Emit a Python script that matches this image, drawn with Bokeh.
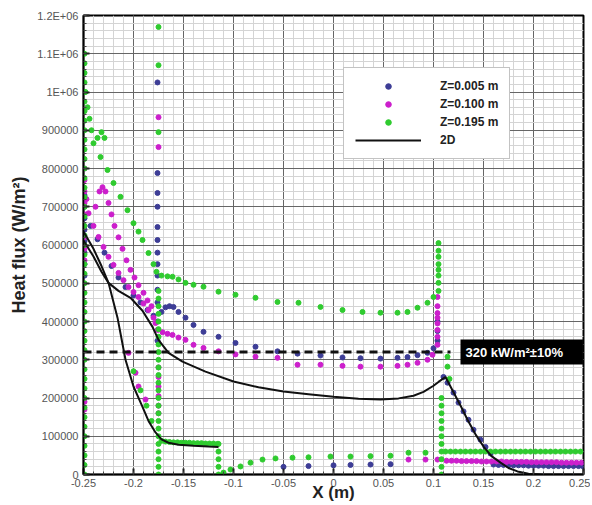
from bokeh.plotting import figure
from bokeh.models import (FixedTicker, Legend, LegendItem, Label)
from bokeh.embed import file_html
from bokeh.resources import INLINE

# ---------------- data ----------------
x_ticks = [-0.25, -0.2, -0.15, -0.1, -0.05, 0.0, 0.05, 0.1, 0.15, 0.2, 0.25]
x_tick_labels = ["-0.25", "-0.2", "-0.15", "-0.1", "-0.05", "0", "0.05", "0.1", "0.15", "0.2", "0.25"]
y_ticks = [0, 100000, 200000, 300000, 400000, 500000, 600000, 700000, 800000, 900000, 1000000, 1100000, 1200000]
y_tick_labels = ["0", "100000", "200000", "300000", "400000", "500000", "600000", "700000",
                 "800000", "900000", "1E+06", "1.1E+06", "1.2E+06"]

# Z = 0.005 m (blue)
z005_x = [-0.249, -0.249, -0.249, -0.249, -0.249, -0.249, -0.249, -0.249,
          -0.243, -0.236, -0.229, -0.222, -0.215, -0.208, -0.2, -0.193, -0.186, -0.18,
          -0.176, -0.176, -0.176, -0.176, -0.176, -0.176, -0.176, -0.176, -0.176, -0.176, -0.176, -0.176, -0.176,
          -0.172, -0.168, -0.164, -0.16, -0.155, -0.148, -0.14, -0.13, -0.115, -0.098, -0.078, -0.056, -0.036,
          -0.013, 0.009, 0.027, 0.047, 0.064, 0.074, 0.084, 0.094, 0.1, 0.104, 0.104, 0.104,
          0.11, 0.114, 0.12, 0.125, 0.13, 0.135, 0.14, 0.147, 0.152, 0.157,
          -0.05, -0.025, 0.0, 0.017, 0.037, 0.057,
          0.16, 0.165, 0.17, 0.175, 0.18, 0.185, 0.19, 0.195, 0.2, 0.205, 0.21, 0.215, 0.22, 0.225, 0.23, 0.235, 0.24, 0.245, 0.249]
z005_y = [520000, 550000, 580000, 610000, 640000, 670000, 700000, 730000,
          650000, 615000, 580000, 545000, 515000, 490000, 468000, 450000, 430000, 415000,
          1025000, 788000, 736000, 700000, 647000, 613000, 580000, 550000, 520000, 483000, 450000, 400000, 350000,
          425000, 437000, 440000, 438000, 425000, 410000, 391000, 373000, 360000, 344000, 334000, 322000, 316000,
          311000, 306000, 304000, 303000, 305000, 307000, 312000, 318000, 330000, 350000, 375000, 400000,
          255000, 240000, 214000, 188000, 165000, 143000, 117000, 91000, 72000, 55000,
          20000, 22000, 24000, 25000, 26000, 27000,
          26000, 25000, 25000, 24000, 24000, 24000, 24000, 23000, 23000, 23000, 23000, 22000, 22000, 22000, 22000, 22000, 22000, 22000, 22000]

# Z = 0.100 m (magenta)
z100_x = [-0.249, -0.249, -0.249, -0.249, -0.249, -0.249, -0.249, -0.249, -0.249, -0.249, -0.249,
          -0.247, -0.245, -0.24, -0.235, -0.23, -0.225, -0.22, -0.215, -0.21, -0.205, -0.2, -0.195, -0.19, -0.185, -0.18, -0.178, -0.176,
          -0.238, -0.234, -0.231, -0.228, -0.225, -0.222, -0.219, -0.215, -0.211, -0.207, -0.203, -0.199, -0.195, -0.19, -0.186, -0.182,
          -0.205, -0.198, -0.195, -0.188,
          -0.175, -0.175, -0.175, -0.175, -0.175, -0.175, -0.175, -0.175,
          -0.171, -0.166, -0.161, -0.155, -0.148, -0.14, -0.13, -0.115, -0.098, -0.078, -0.056, -0.036,
          -0.013, 0.009, 0.027, 0.047, 0.064, 0.074, 0.084, 0.094, 0.099,
          0.104, 0.104, 0.104, 0.104, 0.104, 0.104, 0.104, 0.104,
          0.075, 0.092, 0.104,
          0.113, 0.118, 0.123, 0.128, 0.133, 0.138, 0.143, 0.148, 0.153, 0.158, 0.163, 0.168, 0.173, 0.178,
          0.183, 0.188, 0.193, 0.198, 0.203, 0.208, 0.213, 0.218, 0.223, 0.228, 0.233, 0.238, 0.243, 0.248]
z100_y = [560000, 590000, 620000, 650000, 680000, 710000, 740000, 770000, 800000, 170000, 190000,
          720000, 683000, 650000, 621000, 595000, 569000, 548000, 527000, 508000, 490000, 477000, 464000, 447000, 430000, 410000, 396000, 378000,
          700000, 740000, 751000, 740000, 710000, 680000, 650000, 620000, 590000, 560000, 535000, 515000, 495000, 475000, 455000, 440000,
          318000, 266000, 230000, 196000,
          934000, 856000, 280000, 255000, 230000, 205000, 180000, 160000,
          372000, 368000, 365000, 358000, 352000, 339000, 331000, 322000, 314000, 308000, 305000, 287000,
          287000, 284000, 282000, 282000, 284000, 287000, 292000, 300000, 313000,
          339000, 360000, 378000, 395000, 410000, 422000, 440000, 464000,
          39000, 39000, 39000,
          36000, 36000, 36000, 35000, 35000, 35000, 35000, 34000, 34000, 34000, 34000, 34000, 33000, 33000,
          33000, 33000, 33000, 32000, 32000, 32000, 32000, 32000, 32000, 31000, 31000, 31000, 31000, 31000]

# Z = 0.195 m (green)
z195_wall_y = [0, 25000, 50000, 75000, 100000, 125000, 150000, 175000, 200000, 225000, 250000, 275000,
               300000, 325000, 350000, 375000, 400000, 425000, 450000, 475000, 500000, 525000, 550000,
               575000, 600000, 625000, 650000, 675000, 700000, 725000, 750000, 775000, 800000, 825000,
               850000, 875000, 900000, 925000, 950000, 975000, 1000000, 1025000, 1050000, 1075000, 1100000]
z195_wall_x = -0.249
z195_spike_y = [0, 20000, 40000, 60000, 80000, 100000, 120000, 140000, 160000, 180000, 200000, 220000,
                240000, 260000, 280000, 300000, 320000, 340000, 360000, 380000, 400000, 420000, 440000,
                460000, 480000, 895000, 1070000, 1170000]
z195_spike_x = -0.175
z195_x = [-0.248, -0.246, -0.244, -0.242, -0.24, -0.236, -0.232, -0.229, -0.233, -0.226, -0.22, -0.213,
          -0.206, -0.2, -0.195, -0.191, -0.185, -0.18, -0.177,
          -0.172, -0.166, -0.161, -0.155, -0.148, -0.14, -0.13, -0.115, -0.098, -0.078, -0.056, -0.035,
          -0.013, 0.009, 0.029, 0.047, 0.064, 0.074, 0.084, 0.094, 0.1,
          0.105, 0.105, 0.105, 0.105, 0.105, 0.105, 0.105, 0.105,
          -0.2, -0.193, -0.187, -0.182,
          -0.172, -0.168, -0.164, -0.16, -0.156, -0.152, -0.148, -0.144, -0.14, -0.136, -0.132, -0.128, -0.124, -0.12, -0.116,
          -0.115, -0.115, -0.115, -0.115, -0.115,
          -0.11, -0.103, -0.093, -0.083, -0.071, -0.058, -0.041, -0.025, -0.003, 0.017, 0.037, 0.057, 0.075, 0.092,
          0.108, 0.108, 0.108, 0.108, 0.108, 0.108, 0.108, 0.108, 0.108, 0.108, 0.108,
          0.114, 0.114, 0.116]
z195_y = [1000000, 960000, 930000, 900000, 866000, 880000, 895000, 880000, 830000, 796000, 762000, 726000,
          691000, 657000, 635000, 613000, 579000, 550000, 530000,
          520000, 518000, 517000, 510000, 501000, 496000, 491000, 478000, 470000, 462000, 451000, 449000,
          438000, 430000, 425000, 423000, 423000, 425000, 436000, 449000, 464000,
          480000, 501000, 520000, 535000, 550000, 569000, 585000, 605000,
          270000, 220000, 180000, 140000,
          88000, 86000, 85000, 84000, 84000, 83000, 83000, 83000, 82000, 82000, 82000, 81000, 81000, 81000, 80000,
          0, 20000, 40000, 60000, 80000,
          5000, 13000, 21000, 31000, 39000, 42000, 44000, 45000, 47000, 47000, 48000, 49000, 57000, 57000,
          0, 20000, 40000, 60000, 80000, 100000, 120000, 140000, 160000, 180000, 200000,
          308000, 282000, 250000]
z195_flat_y = 60000
z195_flat_x = [0.112, 0.117, 0.122, 0.127, 0.132, 0.137, 0.142, 0.147, 0.152, 0.157, 0.162, 0.167, 0.172,
               0.177, 0.182, 0.187, 0.192, 0.197, 0.202, 0.207, 0.212, 0.217, 0.222, 0.227, 0.232, 0.237,
               0.242, 0.247]

# 2D (black line, two branches)
d2_a_x = [-0.25, -0.24, -0.232, -0.225, -0.216, -0.208, -0.2, -0.191, -0.185, -0.178, -0.172, -0.165,
          -0.155, -0.14, -0.125, -0.115]
d2_a_y = [635000, 590000, 545000, 501000, 410000, 300000, 230000, 177000, 140000, 110000, 92000, 83000,
          78000, 75000, 73000, 72000]
d2_b_x = [-0.25, -0.24, -0.232, -0.225, -0.215, -0.203, -0.191, -0.181, -0.175, -0.165, -0.151, -0.128,
          -0.1, -0.075, -0.05, -0.025, 0.0, 0.025, 0.047, 0.065, 0.08, 0.09, 0.1, 0.105, 0.112,
          0.12, 0.128, 0.134, 0.142, 0.15, 0.158, 0.167, 0.175, 0.184, 0.195, 0.21, 0.25]
d2_b_y = [612000, 570000, 530000, 501000, 480000, 462000, 428000, 386000, 352000, 318000, 295000, 269000,
          243000, 228000, 217000, 210000, 203000, 198000, 196000, 199000, 206000, 216000, 232000, 242000, 255000,
          215000, 175000, 143000, 105000, 73000, 48000, 31000, 17000, 8000, 2000, 0, 0]

target_value = 320000
target_x_end = 0.117
target_text = "320 kW/m²±10%"

# ---------------- figure ----------------
p = figure(width=590, height=504, x_range=(-0.25, 0.25), y_range=(0, 1200000),
           output_backend="svg", toolbar_location=None,
           min_border_left=83, min_border_right=7, min_border_top=15, min_border_bottom=29)
p.background_fill_color = "white"
p.border_fill_color = "white"
p.outline_line_color = "black"
p.outline_line_width = 2

x_minor = [round(-0.25 + 0.01 * i, 3) for i in range(51)]
y_minor = [20000 * i for i in range(61)]
p.xaxis.ticker = FixedTicker(ticks=x_ticks, minor_ticks=x_minor)
p.yaxis.ticker = FixedTicker(ticks=y_ticks, minor_ticks=y_minor)
p.xaxis.major_label_overrides = dict(zip(x_ticks, x_tick_labels))
p.yaxis.major_label_overrides = dict(zip(y_ticks, y_tick_labels))

for ax in (p.xaxis[0], p.yaxis[0]):
    ax.axis_line_color = "black"
    ax.axis_line_width = 1.5
    ax.major_tick_in = 6
    ax.major_tick_out = 0
    ax.minor_tick_in = 3
    ax.minor_tick_out = 0
    ax.major_tick_line_width = 2
    ax.major_tick_line_color = "#222"
    ax.minor_tick_line_color = "#444"
    ax.major_label_text_font = "Liberation Sans"
    ax.major_label_text_font_size = "11px"
    ax.major_label_text_color = "#555"
    ax.axis_label_text_font = "Liberation Sans"
    ax.axis_label_text_font_style = "bold"
    ax.axis_label_text_color = "#222"

p.xaxis.axis_label = "X (m)"
p.xaxis.axis_label_text_font_size = "17px"
p.xaxis.major_label_standoff = 4
p.xaxis.axis_label_standoff = -7
p.yaxis.axis_label = "Heat flux (W/m²)"
p.yaxis.axis_label_text_font_size = "18px"
p.yaxis.major_label_standoff = 5
p.yaxis.axis_label_standoff = 5

p.xgrid.grid_line_color = "#666"
p.ygrid.grid_line_color = "#666"
p.xgrid.minor_grid_line_color = "#d4d4d4"
p.ygrid.minor_grid_line_color = "#d4d4d4"

blue = "#3d3d96"
magenta = "#cc1fcc"
green = "#2fcb2f"

rb = p.scatter(z005_x, z005_y, size=5, marker="circle", fill_color=blue, line_color=blue)
rm = p.scatter(z100_x, z100_y, size=5, marker="circle", fill_color=magenta, line_color=magenta)

g_x = [z195_wall_x] * len(z195_wall_y) + [z195_spike_x] * len(z195_spike_y) + z195_x + z195_flat_x
g_y = z195_wall_y + z195_spike_y + z195_y + [z195_flat_y] * len(z195_flat_x)
rg = p.scatter(g_x, g_y, size=5, marker="circle", fill_color=green, line_color=green)

rl = p.line(d2_b_x, d2_b_y, line_color="#111", line_width=2)
p.line(d2_a_x, d2_a_y, line_color="#111", line_width=2)

p.line([-0.25, target_x_end], [target_value, target_value], line_color="#111",
       line_width=3, line_dash="8 5")

lbl = Label(x=0.127, y=target_value, text=target_text, text_color="white",
            text_font="Liberation Sans", text_font_style="bold", text_font_size="13px",
            text_baseline="middle", background_fill_color="black",
            padding=dict(left=5, right=20, top=5, bottom=5))
p.add_layout(lbl)

legend = Legend(items=[LegendItem(label="Z=0.005 m", renderers=[rb]),
                       LegendItem(label="Z=0.100 m", renderers=[rm]),
                       LegendItem(label="Z=0.195 m", renderers=[rg]),
                       LegendItem(label="2D", renderers=[rl])],
                location=(260, 315), glyph_width=66, glyph_height=14, label_height=14,
                label_width=58, spacing=4, padding=11, margin=0, label_standoff=19,
                label_text_align="left",
                label_text_font="Liberation Sans", label_text_font_style="bold",
                label_text_font_size="12px", label_text_color="#222",
                border_line_color="#888", background_fill_alpha=1)
p.add_layout(legend)

open("out.html", "w").write(file_html(p, INLINE))
